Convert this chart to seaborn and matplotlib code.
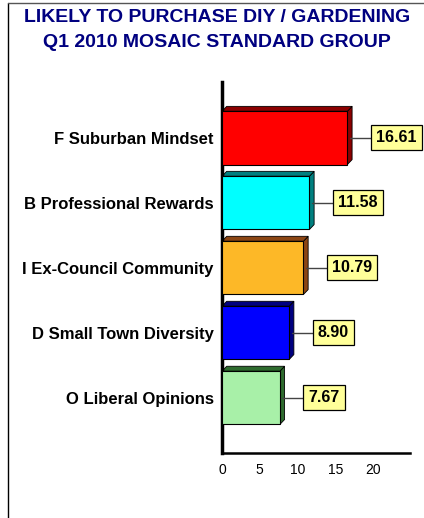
import matplotlib
matplotlib.use("Agg")
import matplotlib.pyplot as plt
from matplotlib.patches import Polygon
from matplotlib.lines import Line2D
import seaborn as sns
import pandas as pd

categories = ["F Suburban Mindset", "B Professional Rewards", "I Ex-Council Community",
              "D Small Town Diversity", "O Liberal Opinions"]
values = [16.61, 11.58, 10.79, 8.90, 7.67]
labels = ["16.61", "11.58", "10.79", "8.90", "7.67"]
front_colors = ["#FF0000", "#00FFFF", "#FDB827", "#0000FF", "#A8F0A8"]
side_colors = ["#8B0000", "#008080", "#8B4513", "#000080", "#2E6B2E"]
xticks = [0, 5, 10, 15, 20]
title_lines = ["LIKELY TO PURCHASE DIY / GARDENING", "Q1 2010 MOSAIC STANDARD GROUP"]

sns.set_style("white")
plt.rcParams['font.family'] = ['Liberation Sans', 'DejaVu Sans']

df = pd.DataFrame({"cat": categories, "val": values})

fig = plt.figure(figsize=(4.24, 5.18), dpi=100)
ax = fig.add_axes([222/424, 65/518, 188/424, 371/518])

bar_h = 0.82
sns.barplot(data=df, x="val", y="cat", hue="cat", palette=front_colors, legend=False,
            saturation=1, width=bar_h, edgecolor="black", linewidth=0.8, ax=ax,
            orient="h", zorder=3)

ax.set_xlim(0, 24.9)
ax.set_ylim(4.85, -0.86)

# 3D depth
dx, dy = 0.62, 0.075
for i, (v, sc) in enumerate(zip(values, side_colors)):
    top = i - bar_h / 2
    bot = i + bar_h / 2
    side = Polygon([(v, top), (v + dx, top - dy), (v + dx, bot - dy), (v, bot)],
                   closed=True, facecolor=sc, edgecolor="black", linewidth=0.6, zorder=2)
    topf = Polygon([(0, top), (dx, top - dy), (v + dx, top - dy), (v, top)],
                   closed=True, facecolor=sc, edgecolor="black", linewidth=0.6, zorder=2)
    ax.add_patch(side)
    ax.add_patch(topf)
    # leader line + label
    ax.plot([v + dx / 2, v + 3.1], [i, i], color="#444444", linewidth=1.0, zorder=4)
    ax.text(v + 3.8, i, labels[i], ha="left", va="center", fontsize=11.5,
            fontweight="bold", color="black", zorder=5,
            bbox=dict(boxstyle="square,pad=0.32", facecolor="#FFFF99",
                      edgecolor="black", linewidth=0.9))

ax.set_xticks(xticks)
ax.set_xticklabels([str(t) for t in xticks], fontsize=10, color="black")
ax.set_xlabel("")
ax.set_ylabel("")
for lab in ax.get_yticklabels():
    lab.set_fontweight("bold")
    lab.set_fontsize(12)
    lab.set_color("black")
ax.tick_params(axis="x", direction="out", length=4, width=0.8, color="black", pad=3)
ax.tick_params(axis="y", direction="out", length=4, width=0.8, color="#555555", pad=2)

for s in ["top", "right"]:
    ax.spines[s].set_visible(False)
ax.spines["left"].set_linewidth(2.5)
ax.spines["bottom"].set_linewidth(1.8)
ax.spines["left"].set_color("black")
ax.spines["bottom"].set_color("black")

fig.text(0.512, 1 - 18/518, title_lines[0], ha="center", va="center", fontsize=14,
         fontweight="bold", color="#000080")
fig.text(0.512, 1 - 42/518, title_lines[1], ha="center", va="center", fontsize=14,
         fontweight="bold", color="#000080")

# outer frame (left and top edges)
fig.add_artist(Line2D([8/424, 8/424], [0, 1 - 3/518], transform=fig.transFigure,
                      color="black", linewidth=1.0))
fig.add_artist(Line2D([8/424, 1], [1 - 3/518, 1 - 3/518], transform=fig.transFigure,
                      color="#555555", linewidth=1.0))

fig.savefig("out.png", dpi=100)
